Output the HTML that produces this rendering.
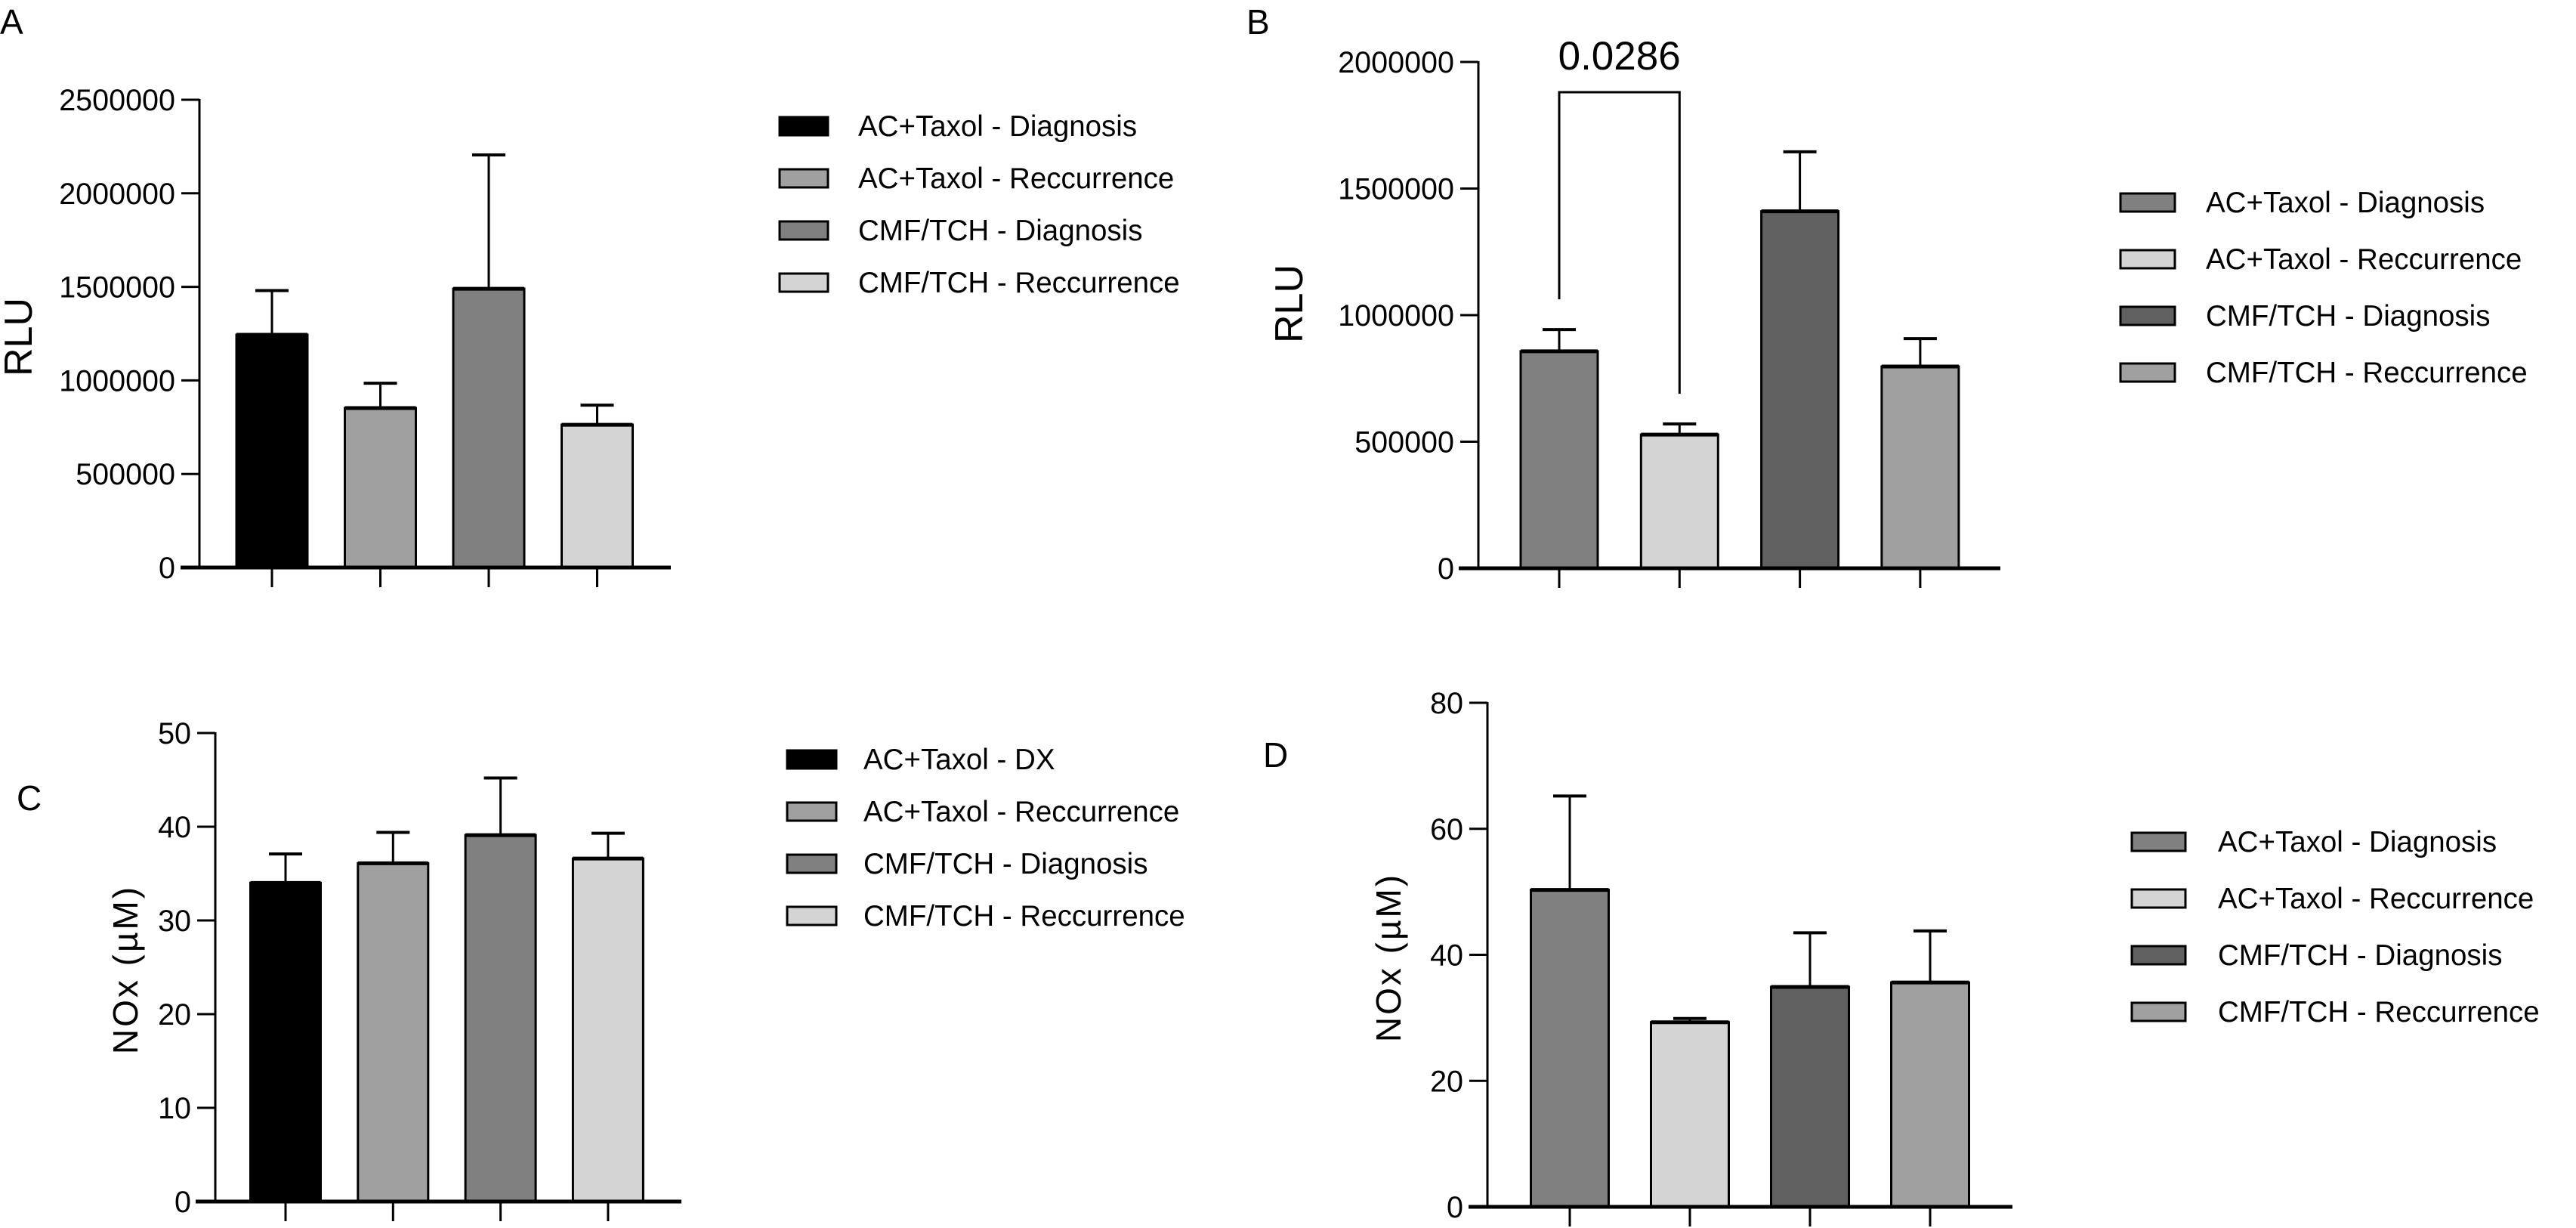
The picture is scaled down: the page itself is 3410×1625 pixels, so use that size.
<!DOCTYPE html>
<html><head><meta charset="utf-8">
<style>
html,body{margin:0;padding:0;background:#fff;}
svg{display:block;font-family:"Liberation Sans",Arial,sans-serif;}
</style></head>
<body>
<svg id="fig" width="3410" height="1625" viewBox="0 0 3410 1625" xmlns="http://www.w3.org/2000/svg">
<text x="0" y="45" font-size="46">A</text>
<text x="1650" y="45" font-size="46">B</text>
<text x="22" y="1072" font-size="46">C</text>
<text x="1672" y="1015" font-size="46">D</text>
</svg>
<script>
// Panel A data
const aLabels = ["AC+Taxol - Diagnosis","AC+Taxol - Reccurrence","CMF/TCH  - Diagnosis","CMF/TCH - Reccurrence"];
const aMeans = [1244000, 852000, 1490000, 763000];
const aErrTop = [1480000, 985000, 2205000, 868000];
const aTicks = [0, 500000, 1000000, 1500000, 2000000, 2500000];
// Panel B data
const bLabels = ["AC+Taxol - Diagnosis","AC+Taxol - Reccurrence","CMF/TCH - Diagnosis","CMF/TCH - Reccurrence"];
const bMeans = [857000, 528000, 1410000, 797000];
const bErrTop = [943000, 570000, 1645000, 907000];
const bTicks = [0, 500000, 1000000, 1500000, 2000000];
// Panel C data
const cLabels = ["AC+Taxol - DX","AC+Taxol - Reccurrence","CMF/TCH - Diagnosis","CMF/TCH - Reccurrence"];
const cMeans = [34.0, 36.1, 39.1, 36.6];
const cErrTop = [37.1, 39.4, 45.2, 39.3];
const cTicks = [0, 10, 20, 30, 40, 50];
// Panel D data
const dLabels = ["AC+Taxol - Diagnosis","AC+Taxol - Reccurrence","CMF/TCH - Diagnosis","CMF/TCH - Reccurrence"];
const dMeans = [50.3, 29.3, 34.9, 35.6];
const dErrTop = [65.2, 29.9, 43.5, 43.8];
const dTicks = [0, 20, 40, 60, 80];
const bSigText = "0.0286";

const NS = "http://www.w3.org/2000/svg";
const svg = document.getElementById('fig');
function mk(tag, attrs){const e=document.createElementNS(NS,tag);for(const k in attrs)e.setAttribute(k,attrs[k]);svg.appendChild(e);return e;}

function panel(id, cfg, labels, means, errTop, ticks, colors, yTitle){
  const ymax = ticks[ticks.length-1];
  const y = v => cfg.y0 - (v/ymax)*(cfg.y0-cfg.yTop);
  const x = i => cfg.xFirst + i*cfg.step;
  means.forEach((m,i)=>{
    const cx = x(i);
    const eb = mk('line',{x1:cx,x2:cx,y1:y(errTop[i]),y2:y(m),stroke:'#000','stroke-width':3});
    
    
    const cap = mk('line',{x1:cx-22,x2:cx+22,y1:y(errTop[i]),y2:y(errTop[i]),stroke:'#000','stroke-width':4});
    
    
    const r = mk('rect',{x:cx-cfg.bw/2,y:y(m),width:cfg.bw,height:cfg.y0-y(m),fill:colors[i],stroke:'#000','stroke-width':3});
    
    
    const topl = mk('line',{x1:cx-cfg.bw/2,x2:cx+cfg.bw/2,y1:y(m),y2:y(m),stroke:'#000','stroke-width':5});
    
    
    const t = mk('line',{x1:cx,x2:cx,y1:cfg.y0,y2:cfg.y0+26,stroke:'#000','stroke-width':3});
    
    
  });
  const ya = mk('line',{x1:cfg.ax,x2:cfg.ax,y1:cfg.yTop-1,y2:cfg.y0,stroke:'#000','stroke-width':3});
  
  
  const xa = mk('line',{x1:cfg.xa0,x2:cfg.xa1,y1:cfg.y0,y2:cfg.y0,stroke:'#000','stroke-width':5});
  
  
  ticks.forEach(v=>{
    const tl = mk('line',{x1:cfg.ax-24,x2:cfg.ax,y1:y(v),y2:y(v),stroke:'#000','stroke-width':3});
    
    
    const tx = mk('text',{x:cfg.ax-32,y:y(v)+14,'font-size':39.5,'text-anchor':'end'});
    tx.textContent = String(v);
    
    
  });
  const yt = mk('text',{x:0,y:0,'font-size':cfg.tfs,'text-anchor':'middle',transform:`translate(${cfg.tx},${cfg.ty}) rotate(-90)`,'letter-spacing':cfg.tls});
  yt.textContent = yTitle;
  
  
  labels.forEach((l,i)=>{
    const ly = cfg.lgY + i*cfg.lgStep;
    const sw = mk('rect',{x:cfg.lgX,y:ly-12,width:cfg.lgW,height:24,fill:colors[i],stroke:'#000','stroke-width':3});
    
    
    const lt = mk('text',{x:cfg.lgTx,y:ly+13,'font-size':38.5});
    lt.textContent = l;
    
    
  });
  return {x,y};
}

panel('panel-a',{y0:751,yTop:132,ax:264,xa0:239,xa1:888,xFirst:360,step:143.5,bw:94,tx:42,ty:446,tfs:52,tls:0,lgX:1032,lgW:64,lgY:167,lgStep:69,lgTx:1136},
  aLabels,aMeans,aErrTop,aTicks,['#000000','#a0a0a0','#808080','#d4d4d4'],'RLU');
const pb = panel('panel-b',{y0:752,yTop:82,ax:1957,xa0:1931,xa1:2648,xFirst:2064,step:159.3,bw:102,tx:1724,ty:402,tfs:52,tls:0,lgX:2807,lgW:72,lgY:268,lgStep:75,lgTx:2920},
  bLabels,bMeans,bErrTop,bTicks,['#808080','#d4d4d4','#606060','#a0a0a0'],'RLU');
panel('panel-c',{y0:1590,yTop:970,ax:285,xa0:259,xa1:902,xFirst:378,step:142.3,bw:93,tx:182,ty:1283,tfs:46,tls:3,lgX:1042,lgW:65,lgY:1005,lgStep:69,lgTx:1143},
  cLabels,cMeans,cErrTop,cTicks,['#000000','#a0a0a0','#808080','#d4d4d4'],'NOx (µM)');
panel('panel-d',{y0:1597,yTop:930,ax:1969,xa0:1944,xa1:2664,xFirst:2078,step:159,bw:103,tx:1854,ty:1267,tfs:46,tls:3,lgX:2822,lgW:71,lgY:1114,lgStep:75,lgTx:2936},
  dLabels,dMeans,dErrTop,dTicks,['#808080','#d4d4d4','#606060','#a0a0a0'],'NOx (µM)');

const bx1 = pb.x(0), bx2 = pb.x(1), by = 122;
const br = mk('polyline',{points:`${bx1},${pb.y(bErrTop[0])-40} ${bx1},${by} ${bx2},${by} ${bx2},${pb.y(bErrTop[1])-40}`,fill:'none',stroke:'#000','stroke-width':3});


const st = mk('text',{x:(bx1+bx2)/2,y:92,'font-size':53,'text-anchor':'middle'});
st.textContent = bSigText;


</script>
</body></html>
